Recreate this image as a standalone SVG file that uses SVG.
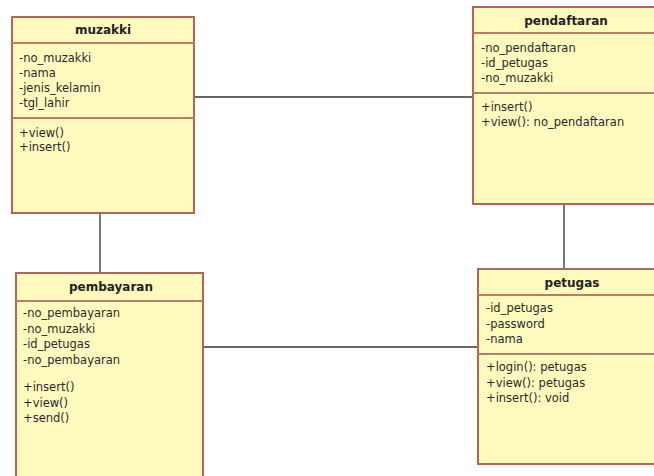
<svg xmlns="http://www.w3.org/2000/svg" width="654" height="476" viewBox="0 0 654 476">
<style>
.box{fill:#fffbbf;stroke:#b3655a;stroke-width:2}
.div{stroke:#c07a62;stroke-width:2}
.t{font-family:"DejaVu Sans",sans-serif;font-size:12px;font-weight:bold;fill:#222;text-anchor:middle}
.a{font-family:"DejaVu Sans",sans-serif;font-size:11.5px;fill:#2a2a2a}
.c{stroke:#333;stroke-width:1.3;fill:none}
.c2{stroke:#777;stroke-width:2;fill:none}
</style>
<rect width="654" height="476" fill="#fff"/>
<g id="connectors">
<line class="c" x1="194" y1="97" x2="473" y2="97"/>
<line class="c" x1="100" y1="213" x2="100" y2="273"/>
<line class="c2" x1="564" y1="204" x2="564" y2="269"/>
<line class="c" x1="203" y1="347" x2="478" y2="347"/>
</g>
<g id="muzakki">
<rect class="box" x="12" y="17" width="182" height="196"/>
<line class="div" x1="12" y1="43" x2="194" y2="43"/>
<line class="div" x1="12" y1="118" x2="194" y2="118"/>
<text class="t" x="103" y="34">muzakki</text>
<text class="a" x="19" y="62">-no_muzakki</text>
<text class="a" x="19" y="77">-nama</text>
<text class="a" x="19" y="92">-jenis_kelamin</text>
<text class="a" x="19" y="107">-tgl_lahir</text>
<text class="a" x="19" y="137">+view()</text>
<text class="a" x="19" y="151">+insert()</text>
</g>
<g id="pendaftaran">
<rect class="box" x="473" y="7" width="200" height="197"/>
<line class="div" x1="473" y1="33" x2="673" y2="33"/>
<line class="div" x1="473" y1="93" x2="673" y2="93"/>
<text class="t" x="566" y="25">pendaftaran</text>
<text class="a" x="481" y="52">-no_pendaftaran</text>
<text class="a" x="481" y="67">-id_petugas</text>
<text class="a" x="481" y="82">-no_muzakki</text>
<text class="a" x="481" y="111">+insert()</text>
<text class="a" x="481" y="126">+view(): no_pendaftaran</text>
</g>
<g id="pembayaran">
<rect class="box" x="16" y="273" width="187" height="220"/>
<line class="div" x1="16" y1="301" x2="203" y2="301"/>
<text class="t" x="111" y="291">pembayaran</text>
<text class="a" x="23" y="317">-no_pembayaran</text>
<text class="a" x="23" y="333">-no_muzakki</text>
<text class="a" x="23" y="348">-id_petugas</text>
<text class="a" x="23" y="364">-no_pembayaran</text>
<text class="a" x="23" y="391">+insert()</text>
<text class="a" x="23" y="407">+view()</text>
<text class="a" x="23" y="422">+send()</text>
</g>
<g id="petugas">
<rect class="box" x="478" y="269" width="200" height="195"/>
<line class="div" x1="478" y1="295" x2="678" y2="295"/>
<line class="div" x1="478" y1="354" x2="678" y2="354"/>
<text class="t" x="572" y="287">petugas</text>
<text class="a" x="486" y="312">-id_petugas</text>
<text class="a" x="486" y="328">-password</text>
<text class="a" x="486" y="343">-nama</text>
<text class="a" x="486" y="371">+login(): petugas</text>
<text class="a" x="486" y="387">+view(): petugas</text>
<text class="a" x="486" y="402">+insert(): void</text>
</g>
</svg>
